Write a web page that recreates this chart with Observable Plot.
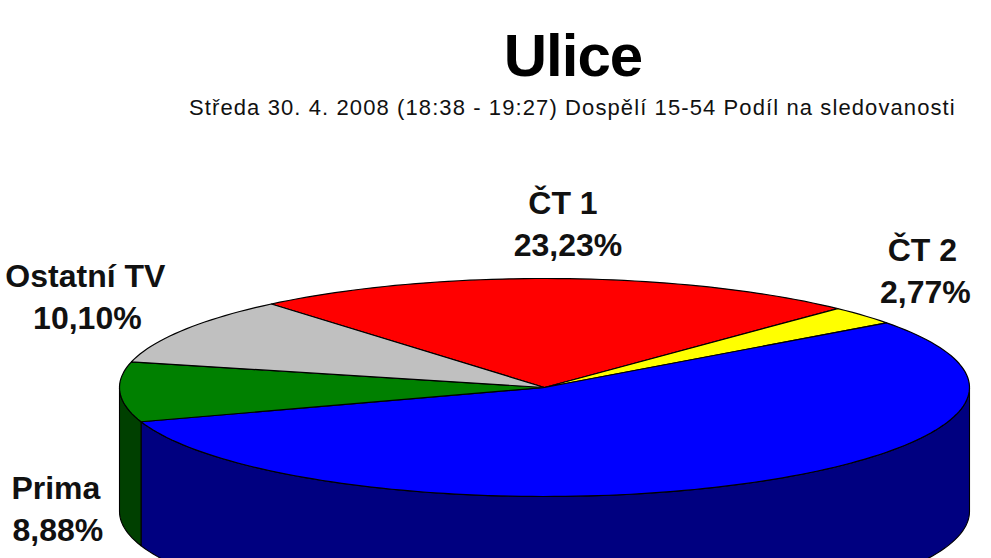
<!DOCTYPE html>
<html lang="cs">
<head>
<meta charset="utf-8">
<script src="https://cdn.jsdelivr.net/npm/d3@7"></script>
<script src="https://cdn.jsdelivr.net/npm/@observablehq/plot@0.6"></script>
<style>
  html, body { margin: 0; padding: 0; background: #fff; width: 991px; height: 558px; overflow: hidden; }
  #head { position: relative; height: 140px; font-family: "Liberation Sans", Arial, sans-serif; color: #000; }
  #title { position: absolute; left: 0; width: 1146px; top: 21px; margin: 0; text-align: center; font-size: 60px; font-weight: bold; line-height: 70px; letter-spacing: -1px; }
  #subtitle { position: absolute; left: 189px; top: 95px; margin: 0; font-size: 22px; line-height: 26px; white-space: nowrap; letter-spacing: 1.1px; color: #111; }
  svg { display: block; }
</style>
</head>
<body>
<div id="head">
  <h1 id="title">Ulice</h1>
  <p id="subtitle">Středa 30. 4. 2008 (18:38 - 19:27) Dospělí 15-54 Podíl na sledovanosti</p>
</div>
<div id="chart"></div>
<script>
// Shares in clockwise order; the blue slice's label lies outside the picture.
const channels = ["ČT 1", "ČT 2", "blue", "Prima", "Ostatní TV"];
const shares = [23.23, 2.77, 55.02, 8.88, 10.10];
const shareLabels = ["23,23%", "2,77%", "", "8,88%", "10,10%"];
const topColours = ["#ff0000", "#ffff00", "#0000ff", "#008000", "#c0c0c0"];
const wallColours = ["#800000", "#808000", "#000080", "#004000", "#606060"];

// Layout of the pie, separate from the data
const startDeg = -40;               // clockwise from top
const depth = 124 / 109;            // wall height in units of the vertical radius
const labelNudge = {                // [dx, dy, extra dx of the percent line], from the slice's rim point
  "ČT 1": [5, -75, 5],
  "ČT 2": [59, -65, 3],
  "Prima": [-64, 97, 2],
  "Ostatní TV": [-98, -53, 2]
};
const lineGap = 42;

const rad = (d) => d * Math.PI / 180;
const rim = (deg) => [Math.sin(rad(deg)), Math.cos(rad(deg))];

const total = d3.sum(shares);
let acc = startDeg;
const slices = channels.map((name, i) => {
  const a0 = acc;
  const a1 = acc + shares[i] / total * 360;
  acc = a1;
  return {name, i, a0, a1, mid: (a0 + a1) / 2};
});

const sweep = (a0, a1) => {
  const n = Math.max(2, Math.ceil((a1 - a0) / 1.5));
  return d3.range(n + 1).map((k) => rim(a0 + (a1 - a0) * k / n));
};

// Top faces: closed wedges
const tops = slices.flatMap((s) =>
  [[0, 0], ...sweep(s.a0, s.a1), [0, 0]].map(([x, y]) => ({x, y, key: "top" + s.i}))
);

// Front walls: the part of each slice lying between 90° and 270°
const walls = slices.flatMap((s) => {
  const parts = [[s.a0, s.a1], [s.a0 + 360, s.a1 + 360]];
  return parts.flatMap(([p, q]) => {
    const a0 = Math.max(p, 90), a1 = Math.min(q, 270);
    if (a1 <= a0) return [];
    const arc = sweep(a0, a1);
    const ring = [...arc, ...arc.slice().reverse().map(([x, y]) => [x, y - depth]), arc[0]];
    return ring.map(([x, y]) => ({x, y, key: "wall" + s.i}));
  });
});

const keys = [...slices.map((s) => "top" + s.i), ...slices.map((s) => "wall" + s.i)];
const fills = [...topColours, ...wallColours];

const labelled = slices.filter((s) => labelNudge[s.name]);
const labelAt = (s) => rim(s.mid);
const textMark = (text, second) => Plot.text(labelled, {
  x: (s) => labelAt(s)[0],
  y: (s) => labelAt(s)[1],
  text,
  fontSize: 32,
  fontWeight: "bold",
  fontFamily: "Liberation Sans, Arial, sans-serif",
  fill: "#111",
  render(index, scales, values, dims, ctx, next) {
    const g = next(index, scales, values, dims, ctx);
    d3.select(g).selectAll("text").attr("transform", function (_, k) {
      const s = labelled[index[k]];
      const [dx, dy, dx2] = labelNudge[s.name];
      return `translate(${values.x[index[k]] + dx + (second ? dx2 : 0)},${values.y[index[k]] + dy + (second ? lineGap : 0)})`;
    });
    return g;
  }
});

const chart = Plot.plot({
  width: 991,
  height: 418,
  margin: 0,
  axis: null,
  x: {domain: [-1, 1], range: [119, 969]},
  y: {domain: [-1, 1], range: [356, 138]},
  color: {type: "ordinal", domain: keys, range: fills, legend: false},
  marks: [
    Plot.line(walls, {x: "x", y: "y", z: "key", fill: "key", stroke: "#000", strokeWidth: 1.1, curve: "linear"}),
    Plot.line(tops, {x: "x", y: "y", z: "key", fill: "key", stroke: "#000", strokeWidth: 1.2, curve: "linear"}),
    textMark((s) => s.name, false),
    textMark((s) => shareLabels[s.i], true)
  ]
});
document.getElementById("chart").appendChild(chart);
</script>
</body>
</html>
